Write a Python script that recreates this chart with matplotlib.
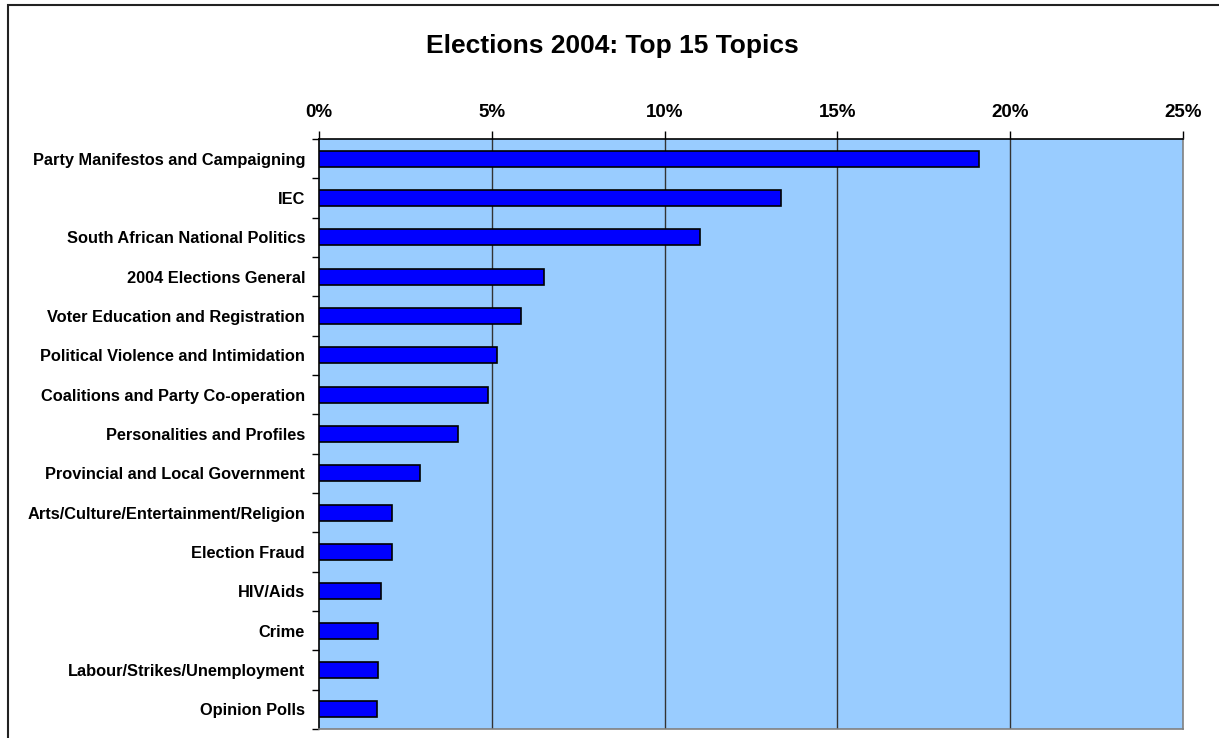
import matplotlib
matplotlib.use("Agg")
import matplotlib.pyplot as plt
from matplotlib.ticker import FixedLocator, FuncFormatter
from matplotlib.patches import Rectangle

categories = [
    "Party Manifestos and Campaigning",
    "IEC",
    "South African National Politics",
    "2004 Elections General",
    "Voter Education and Registration",
    "Political Violence and Intimidation",
    "Coalitions and Party Co-operation",
    "Personalities and Profiles",
    "Provincial and Local Government",
    "Arts/Culture/Entertainment/Religion",
    "Election Fraud",
    "HIV/Aids",
    "Crime",
    "Labour/Strikes/Unemployment",
    "Opinion Polls",
]
values = [19.11, 13.38, 11.01, 6.52, 5.84, 5.16, 4.89, 4.02, 2.92, 2.12, 2.12, 1.80, 1.72, 1.70, 1.67]
xticks = [0, 5, 10, 15, 20, 25]

plt.rcParams['font.family'] = ['Liberation Sans', 'DejaVu Sans']

W, H = 1219, 738
fig = plt.figure(figsize=(W / 100, H / 100), dpi=100)
fig.patches.append(Rectangle((8 / W, -0.05), 1.2, 1 - 5 / H + 0.05, transform=fig.transFigure,
                             fill=False, edgecolor='#222222', linewidth=1.5))

left, right, top, bottom = 319, 1183, 139, 729
ax = fig.add_axes([left / W, 1 - bottom / H, (right - left) / W, (bottom - top) / H])
ax.set_facecolor('#99CCFF')

y = list(range(len(categories)))
ax.barh(y, values, height=0.4, color='#0000FF', edgecolor='black', linewidth=1.2, zorder=3)

ax.set_xlim(0, 25)
ax.set_ylim(len(categories) - 0.5, -0.5)

ax.xaxis.tick_top()
ax.set_xticks(xticks)
ax.xaxis.set_major_formatter(FuncFormatter(lambda v, p: f"{int(v)}%"))
ax.tick_params(axis='x', which='major', direction='out', length=6, width=1, pad=7,
               labelsize=13.5)
for lbl in ax.get_xticklabels():
    lbl.set_fontweight('bold')
for xv in xticks[1:-1]:
    ax.axvline(xv, color='#333333', linewidth=1.0, zorder=1)

ax.set_yticks(y)
ax.set_yticklabels(categories, fontsize=11.8, fontweight='bold')
ax.tick_params(axis='y', which='major', length=0, pad=10)
ax.yaxis.set_minor_locator(FixedLocator([i - 0.5 for i in range(len(categories) + 1)]))
ax.tick_params(axis='y', which='minor', direction='out', length=5, width=1)

ax.spines['left'].set_color('black')
ax.spines['top'].set_color('black')
ax.spines['right'].set_color('#808080')
ax.spines['bottom'].set_color('#808080')
for s in ax.spines.values():
    s.set_linewidth(1.2)

fig.text(612 / W, 1 - 46 / H, "Elections 2004: Top 15 Topics",
         ha='center', va='center', fontsize=19, fontweight='bold')

fig.savefig("out.png", dpi=100)
